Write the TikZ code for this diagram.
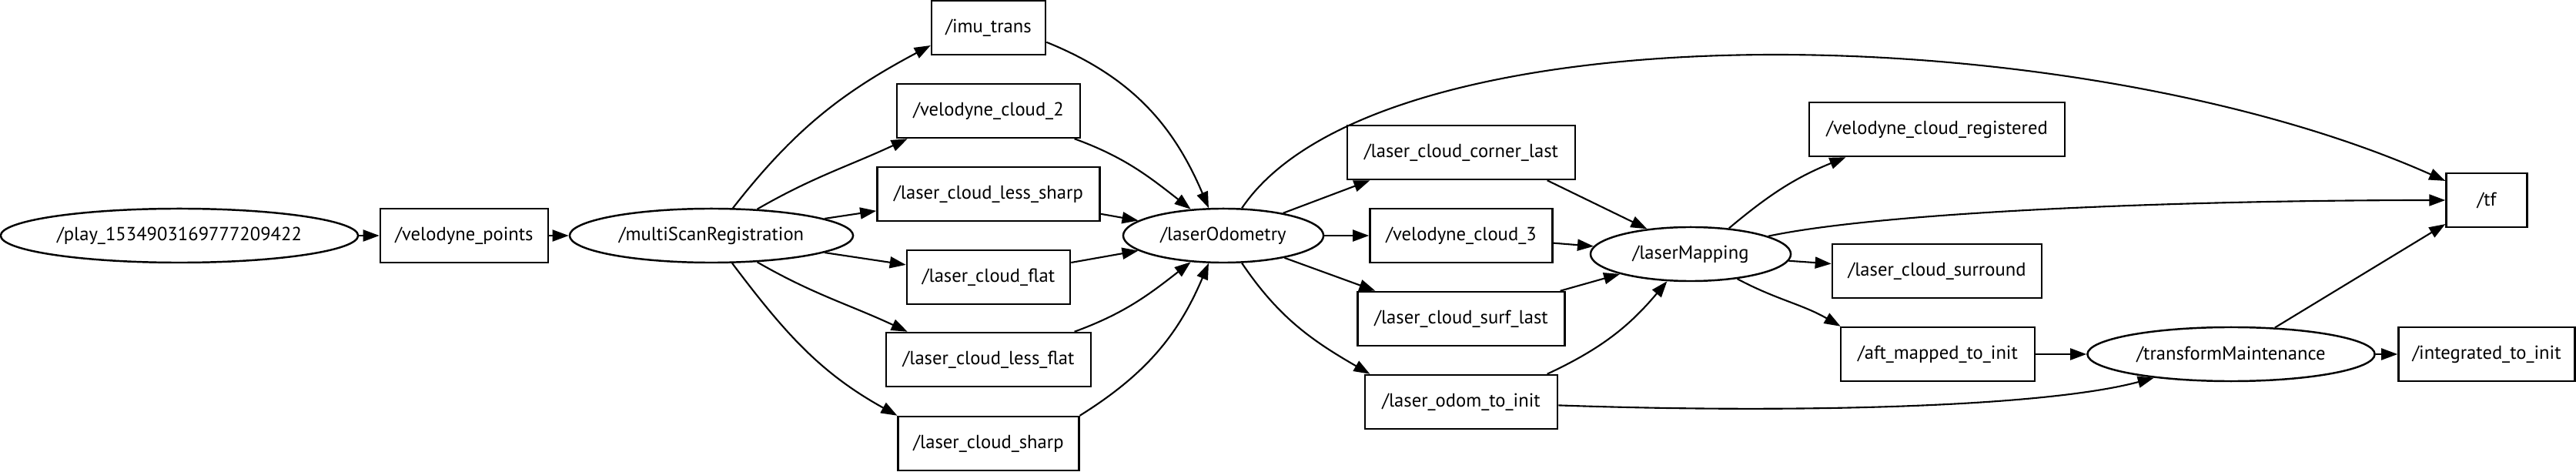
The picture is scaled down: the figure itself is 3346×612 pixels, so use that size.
\documentclass[tikz,border=0pt]{standalone}
\usepackage{fontspec}
\setmainfont{PT Sans}
\usetikzlibrary{positioning,arrows.meta,shapes.geometric}

\begin{document}
\begin{tikzpicture}[
                    x=0.01cm, y=0.01cm,
                    font=\fontsize{7pt}{8pt}\selectfont,
                    topic/.style={rectangle, draw, line width=0.7pt, minimum height=0.7cm, inner sep=0pt},
                    proc/.style={ellipse, draw, line width=0.7pt, minimum height=0.7cm, inner sep=0pt},
                    flow/.style={-{Triangle[length=0.21cm, width=0.15cm]}, line width=0.6pt}
                ]
                    \useasboundingbox (0,0) rectangle (3346,612);

                    % Process nodes
                    \node[proc, minimum width=4.64cm] (play) at (233,306) {/play\_1534903169777209422};
                    \node[proc, minimum width=3.68cm] (msr) at (924,306) {/multiScanRegistration};
                    \node[proc, minimum width=2.60cm] (lo) at (1589,306) {/laserOdometry};
                    \node[proc, minimum width=2.60cm] (lm) at (2196,282) {/laserMapping};
                    \node[proc, minimum width=3.73cm] (tm) at (2898,152) {/transformMaintenance};

                    % Topic nodes
                    \node[topic, minimum width=2.18cm] (vpoints) at (603,306) {/velodyne\_points};
                    \node[topic, minimum width=1.48cm] (imu) at (1284,576) {/imu\_trans};
                    \node[topic, minimum width=2.38cm] (vc2) at (1284,468) {/velodyne\_cloud\_2};
                    \node[topic, minimum width=2.89cm] (lcls) at (1284,360) {/laser\_cloud\_less\_sharp};
                    \node[topic, minimum width=2.12cm] (lcf) at (1284,252) {/laser\_cloud\_flat};
                    \node[topic, minimum width=2.66cm] (lclf) at (1284,145) {/laser\_cloud\_less\_flat};
                    \node[topic, minimum width=2.35cm] (lcs) at (1284,36) {/laser\_cloud\_sharp};
                    \node[topic, minimum width=2.96cm] (lccl) at (1898,414) {/laser\_cloud\_corner\_last};
                    \node[topic, minimum width=2.37cm] (vc3) at (1898,306) {/velodyne\_cloud\_3};
                    \node[topic, minimum width=2.69cm] (lcsl) at (1898,198) {/laser\_cloud\_surf\_last};
                    \node[topic, minimum width=2.50cm] (loti) at (1898,90) {/laser\_odom\_to\_init};
                    \node[topic, minimum width=3.32cm] (vcr) at (2516,444) {/velodyne\_cloud\_registered};
                    \node[topic, minimum width=2.72cm] (lcsr) at (2516,260) {/laser\_cloud\_surround};
                    \node[topic, minimum width=2.52cm] (amti) at (2517,152) {/aft\_mapped\_to\_init};
                    \node[topic, minimum width=2.29cm] (iti) at (3230,152) {/integrated\_to\_init};
                    \node[topic, minimum width=1.05cm] (tf) at (3230,352) {/tf};

                    % Input chain
                    \draw[flow] (play) -- (vpoints);
                    \draw[flow] (vpoints) -- (msr);

                    % multiScanRegistration outputs
                    \draw[flow] (msr) to[out=52, in=208] (imu.197);
                    \draw[flow] (msr) to[out=30, in=205] (vc2.199);
                    \draw[flow] (msr) -- (lcls);
                    \draw[flow] (msr) -- (lcf);
                    \draw[flow] (msr) to[out=-30, in=155] (lclf.161);
                    \draw[flow] (msr) to[out=-53, in=151] (lcs.163);

                    % laserOdometry inputs
                    \draw[flow] (imu.-14) to[out=-22, in=113] (lo.118);
                    \draw[flow] (vc2.-18) to[out=-20, in=142] (lo.141);
                    \draw[flow] (lcls) -- (lo);
                    \draw[flow] (lcf) -- (lo);
                    \draw[flow] (lclf.18) to[out=20, in=-142] (lo.-141);
                    \draw[flow] (lcs.17) to[out=32, in=-113] (lo.-118);

                    % laserOdometry outputs
                    \draw[flow] (lo) to[out=56, in=156, out distance=3.2cm, in distance=5.3cm] (tf.155);
                    \draw[flow] (lo) -- (lccl.197);
                    \draw[flow] (lo) -- (vc3);
                    \draw[flow] (lo) -- (lcsl.162);
                    \draw[flow] (lo) to[out=-56, in=150] (loti.163);

                    % laserMapping inputs
                    \draw[flow] (lccl.-18) -- (lm.150);
                    \draw[flow] (vc3) -- (lm);
                    \draw[flow] (lcsl) -- (lm);
                    \draw[flow] (loti.18) to[out=25, in=-130] (lm.-131);

                    % laserMapping outputs
                    \draw[flow] (lm.34) to[out=40, in=-158] (vcr.197);
                    \draw[flow] (lm.13) to[out=12, in=180, out distance=1.5cm, in distance=3.5cm] (tf);
                    \draw[flow] (lm) -- (lcsr);
                    \draw[flow] (lm.-28) to[out=-28, in=150] (amti.164);

                    % transformMaintenance
                    \draw[flow] (loti) to[out=-2, in=195, out distance=3cm, in distance=1.5cm] (tm.197);
                    \draw[flow] (amti) -- (tm);
                    \draw[flow] (tm) -- (iti);
                    \draw[flow] (tm) -- (tf.210);
                \end{tikzpicture}
\end{document}
